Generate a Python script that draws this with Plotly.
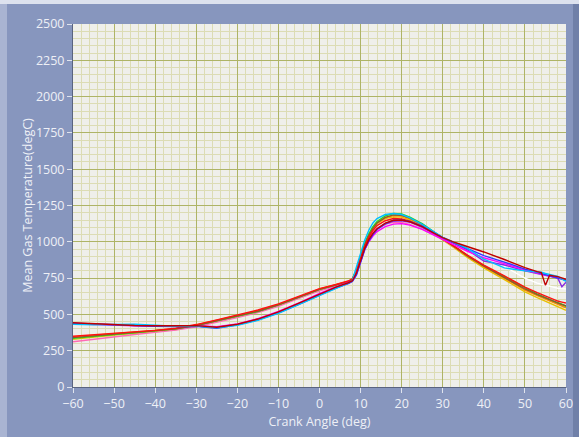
import plotly.graph_objects as go

crank_angle = [-60,-55,-50,-45,-40,-35,-30,-25,-20,-15,-10,-5,0,4,7,8,9,10,11,12,13,14,16,18,20,22,25,28,30,33,36,40,45,50,53,54,55,56,58,59,60]

temp_white = [438,432,426,421,419,418,420,408,428,462,510,570,635,682,712,726,772,860,945,1005,1050,1085,1125,1145,1148,1138,1105,1060,1028,990,952,900,830,750,715,705,700,695,680,678,675]
temp_darkred = [442,436,428,424,422,421,423,412,432,468,518,578,642,688,718,732,785,875,955,1015,1058,1090,1128,1148,1150,1138,1105,1058,1028,995,968,930,878,822,795,788,700,770,760,750,742]
temp_blue = [438,432,426,420,418,416,418,405,428,462,510,570,635,682,712,726,772,860,945,1005,1050,1085,1125,1148,1150,1140,1108,1062,1030,990,955,905,860,812,790,782,775,768,752,745,735]
temp_cyan = [432,428,430,432,425,418,420,408,425,460,508,568,632,680,715,735,820,920,1010,1080,1130,1160,1188,1195,1188,1165,1120,1065,1030,992,955,880,820,800,795,790,782,776,762,745,728]
temp_purple = [440,434,427,423,420,418,420,410,430,465,512,572,636,684,714,728,775,862,948,1008,1052,1085,1122,1142,1145,1135,1100,1055,1022,985,945,868,840,800,780,775,770,765,750,690,722]
temp_magenta = [436,430,424,421,419,420,422,415,435,470,520,580,645,690,718,730,780,865,945,1000,1040,1070,1105,1122,1125,1115,1085,1045,1015,975,935,890,850,805,785,778,772,768,755,745,735]
temp_green = [335,350,362,374,386,400,425,455,485,520,565,620,672,702,726,742,810,905,990,1055,1105,1140,1178,1195,1192,1170,1125,1065,1025,965,905,835,760,680,640,628,615,602,580,570,555]
temp_orange = [345,356,366,377,388,402,428,460,490,525,568,622,675,704,728,744,805,895,980,1045,1095,1130,1165,1180,1178,1158,1115,1060,1022,962,900,828,750,668,630,618,605,592,570,560,545]
temp_yellow = [328,345,358,370,382,396,420,452,482,518,562,616,668,700,724,738,800,890,975,1040,1090,1125,1160,1172,1170,1150,1108,1052,1015,955,892,820,740,655,615,602,590,575,552,540,528]
temp_red = [350,360,368,378,390,405,430,462,495,530,572,626,678,706,730,745,798,885,968,1030,1078,1112,1145,1160,1158,1142,1105,1055,1020,965,908,840,765,688,650,638,625,612,592,585,578]
temp_pink = [312,330,348,362,376,392,415,445,478,512,555,610,662,695,720,735,795,880,960,1020,1065,1095,1122,1135,1133,1120,1088,1045,1015,960,905,835,760,680,640,628,615,600,578,566,552]
temp_brown = [340,352,364,376,388,400,424,458,488,522,566,620,672,703,727,741,802,893,978,1043,1093,1130,1168,1185,1183,1163,1120,1063,1024,964,903,832,755,675,636,624,612,598,576,567,560]

series = [
    ("white", temp_white, "#FFFFFF"),
    ("yellow", temp_yellow, "#E8C000"),
    ("pink", temp_pink, "#FF69B4"),
    ("orange", temp_orange, "#FF8C00"),
    ("green", temp_green, "#22DD22"),
    ("brown", temp_brown, "#8B5A2B"),
    ("red", temp_red, "#FF1010"),
    ("purple", temp_purple, "#8A2BE2"),
    ("magenta", temp_magenta, "#FF00FF"),
    ("blue", temp_blue, "#3333FF"),
    ("cyan", temp_cyan, "#00BFFF"),
    ("darkred", temp_darkred, "#C00000"),
]

fig = go.Figure()
for name, vals, col in series:
    fig.add_trace(go.Scatter(x=crank_angle, y=vals, mode="lines", name=name,
                             line=dict(color=col, width=1.4), showlegend=False))

tick_font = dict(family="Open Sans, DejaVu Sans, sans-serif", size=12.5, color="#EEF0F6")

fig.update_layout(
    width=579, height=437,
    margin=dict(l=73, r=13, t=24, b=50, autoexpand=False),
    paper_bgcolor="#8796BE",
    plot_bgcolor="#EFEFEA",
    font=tick_font,
    shapes=[
        dict(type="rect", xref="paper", yref="paper", x0=-73/493, x1=-66/493, y0=-50/363, y1=1+24/363,
             fillcolor="#A9B4D2", line=dict(width=0), layer="below"),
        dict(type="rect", xref="paper", yref="paper", x0=1+7/493, x1=1+13/493, y0=-50/363, y1=1+24/363,
             fillcolor="#7080A8", line=dict(width=0), layer="below"),
        dict(type="rect", xref="paper", yref="paper", x0=-73/493, x1=1+13/493, y0=1+20/363, y1=1+24/363,
             fillcolor="#DDE2EE", line=dict(width=0), layer="below"),
    ],
)
fig.update_xaxes(
    range=[-60, 60], dtick=10, tick0=-60, automargin=False,
    showgrid=True, gridcolor="#AEB466", gridwidth=1,
    minor=dict(dtick=2, showgrid=True, gridcolor="#DCDCB4", gridwidth=1),
    ticks="outside", ticklen=5, tickcolor="#E0E4EE",
    showline=True, linecolor="#5A6480", linewidth=1,
    zeroline=False,
    title=dict(text="Crank Angle (deg)", font=tick_font, standoff=6),
)
fig.update_yaxes(
    range=[0, 2500], dtick=250, automargin=False,
    showgrid=True, gridcolor="#AEB466", gridwidth=1,
    minor=dict(dtick=50, showgrid=True, gridcolor="#DCDCB4", gridwidth=1),
    ticks="outside", ticklen=5, tickcolor="#E0E4EE",
    showline=True, linecolor="#5A6480", linewidth=1,
    zeroline=False,
    title=dict(text="Mean Gas Temperature(degC)", font=tick_font, standoff=0),
)

fig.write_html("out.html", config={"displayModeBar": False},
               post_script="document.body.style.margin='0';document.body.style.padding='0';")
